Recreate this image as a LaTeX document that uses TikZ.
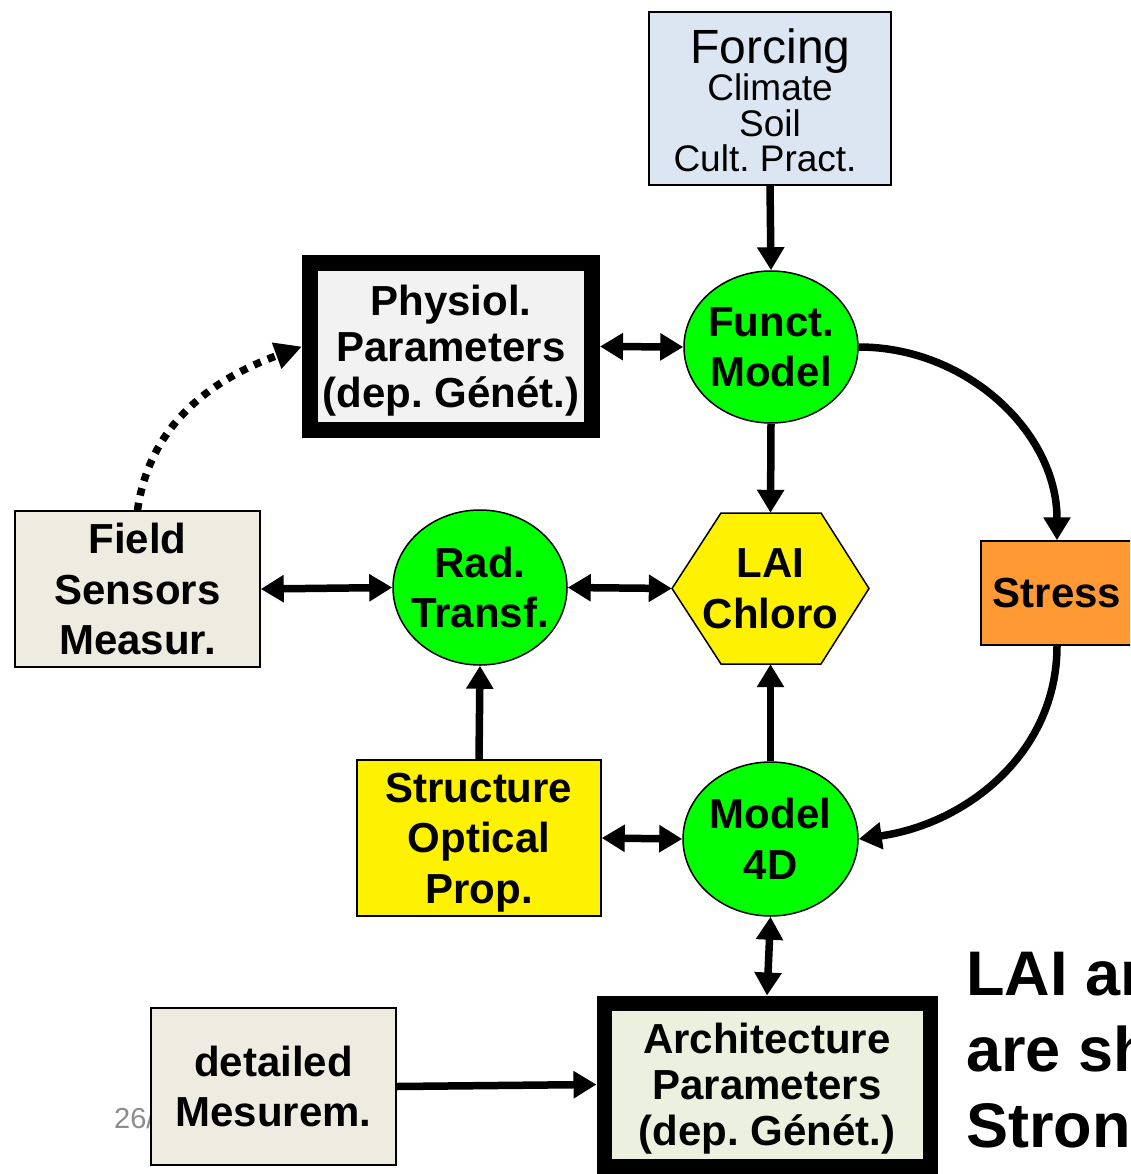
\documentclass[tikz,border=0pt]{standalone}
\usepackage{fontspec}
\setmainfont{Liberation Sans}
\usetikzlibrary{arrows.meta,shapes.geometric}
\definecolor{forcingblue}{HTML}{DCE6F2}
\definecolor{physgray}{HTML}{F2F2F2}
\definecolor{beige}{HTML}{EEECE1}
\definecolor{archgreen}{HTML}{EBF1DE}
\definecolor{stressorange}{HTML}{FF9933}
\definecolor{brightgreen}{HTML}{00FF00}
\definecolor{pagegray}{HTML}{8C8C8C}
\newcommand\nodefont{\fontsize{42}{50.5}\selectfont\bfseries}
\newcommand\tightfont{\fontsize{42}{46}\selectfont\bfseries}
\frenchspacing
\begin{document}
\begin{tikzpicture}[x=1pt,y=-1pt,
  plain/.style={inner sep=0pt, align=center, text depth=0pt},
  box/.style={plain, draw=black, line width=1.5pt},
  thickbox/.style={box, line width=16pt, font=\tightfont},
  oval/.style={ellipse, draw=black, line width=1.5pt, fill=brightgreen, inner sep=0pt},
  lbl/.style={plain, font=\nodefont},
  arr/.style={line width=7.5pt, -{Triangle[length=23pt,width=26pt]}},
  darr/.style={line width=7.5pt, {Triangle[length=23pt,width=26pt]}-{Triangle[length=23pt,width=26pt]}},
  dotarr/.style={line width=7.5pt, dash pattern=on 7.5pt off 7.5pt, -{Triangle[length=27pt,width=26pt]}},
  bigtext/.style={anchor=base west, inner sep=0pt, font=\fontsize{63}{76}\selectfont\bfseries}
]
\fill[white] (0,0) rectangle (1130,1174);
\clip (0,0) rectangle (1130,1174);

% page number (partly hidden)
\node[anchor=base west, inner sep=0pt, text=pagegray, font=\fontsize{29}{29}\selectfont] (pagenum) at (114,1128) {26/};

% Forcing
\node[box, fill=forcingblue, minimum width=242pt, minimum height=173pt] (forcing) at (770,98.5) {};
\node[plain, anchor=base, font=\fontsize{48}{48}\selectfont] (forcingT) at (770.5,64) {Forcing};
\node[plain, anchor=base, font=\fontsize{37}{36}\selectfont] (forcingA) at (770,101) {Climate};
\node[plain, anchor=base, font=\fontsize{37}{36}\selectfont] (forcingB) at (770,137) {Soil};
\node[plain, anchor=base, font=\fontsize{37}{36}\selectfont] (forcingC) at (765,172) {Cult. Pract.};

% Physiol. parameters
\node[thickbox, fill=physgray, minimum width=282pt, minimum height=167pt] (physiol) at (451,346.5) {Physiol.\\Parameters\\(dep. Génét.)};

% Funct. model
\node[oval, minimum width=174pt, minimum height=152pt, label={[lbl]center:Funct.\\Model}] (funct) at (771,347) {};

% LAI Chloro hexagon
\filldraw[fill=yellow, draw=black, line width=1.5pt] (672,588.5) -- (721,513) -- (821,513) -- (869,588.5) -- (821,664) -- (721,664) -- cycle;
\node[plain, font=\nodefont, minimum width=197pt, minimum height=151pt] (lai) at (770.5,588.5) {LAI\\Chloro};

% Rad. Transf.
\node[oval, minimum width=174pt, minimum height=155pt, label={[lbl]center:Rad.\\Transf.}] (rad) at (480,587.5) {};

% Field sensors
\node[box, fill=beige, font=\nodefont, minimum width=245pt, minimum height=156pt] (field) at (137.5,589) {Field\\Sensors\\Measur.};

% Stress
\node[box, fill=stressorange, font=\nodefont, minimum width=152pt, minimum height=104pt] (stress) at (1057,593) {Stress};

% Structure optical prop.
\node[box, fill=yellow, font=\nodefont, minimum width=244pt, minimum height=156pt] (structure) at (479,838) {Structure\\Optical\\Prop.};

% Model 4D
\node[oval, minimum width=175pt, minimum height=154pt, label={[lbl]center:Model\\4D}] (model) at (770.5,839) {};

% Architecture parameters
\node[thickbox, line width=15pt, fill=archgreen, minimum width=326pt, minimum height=163pt] (arch) at (767,1084.5) {Architecture\\Parameters\\(dep. Génét.)};

% detailed measurements
\node[box, fill=beige, font=\nodefont, minimum width=245pt, minimum height=157pt] (detailed) at (273.5,1086.5) {detailed\\Mesurem.};

% big text at bottom right (cut by the picture edge, as in the reference)
\node[bigtext] (noteA) at (966,995) {LAI and};
\node[bigtext] (noteB) at (966,1071) {are shared};
\node[bigtext] (noteC) at (966,1147) {Strong};

% connectors
\draw[arr] (forcing.south) -- (funct.north);
\draw[darr] (physiol.east) -- (funct.west);
\draw[arr] (funct.south) -- (lai.north);
\draw[arr] (funct.east) to[out=0,in=90] (stress.north);
\draw[arr] (stress.south) to[out=-90,in=8] (model.east);
\draw[darr] (field.east) -- (rad.west);
\draw[darr] (rad.east) -- (lai.west);
\draw[arr] (structure.north) -- (rad.south);
\draw[arr] (model.north) -- (lai.south);
\draw[darr] (structure.east) -- (model.west);
\draw[darr] (model.south) -- (arch.north);
\draw[arr] (detailed.east) -- (arch.west);
\draw[dotarr] (field.north) to[out=82,in=200] (physiol.west);
\end{tikzpicture}
\end{document}
